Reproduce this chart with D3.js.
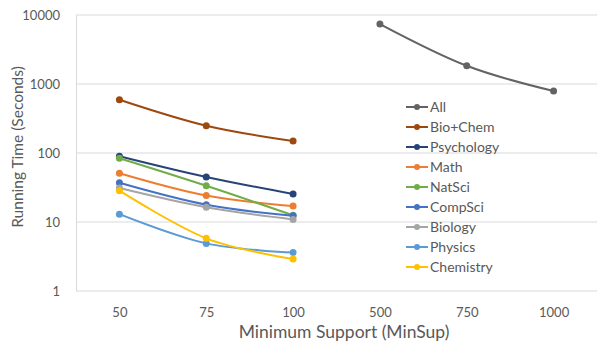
<!DOCTYPE html>
<html>
<head>
<meta charset="utf-8">
<script src="https://cdn.jsdelivr.net/npm/d3@7"></script>
<style>
  body { margin: 0; background: #fff; }
  svg text { font-family: Lato, "Open Sans", sans-serif; fill: #595959; }
</style>
</head>
<body>
<svg id="chart" width="597" height="344"></svg>
<script>
// x categories (minimum support) and series
const categories = ["50", "75", "100", "500", "750", "1000"];
const seriesNames = ["All", "Bio+Chem", "Psychology", "Math", "NatSci", "CompSci", "Biology", "Physics", "Chemistry"];
const seriesColors = ["#636363", "#9E480E", "#264478", "#ED7D31", "#70AD47", "#4472C4", "#A5A5A5", "#5B9BD5", "#FFC000"];
// running times in seconds; null = no value
const allTimes       = [null, null, null, 7400, 1840, 790];
const bioChemTimes   = [590, 248, 149, null, null, null];
const psychTimes     = [90, 45, 25.5, null, null, null];
const mathTimes      = [51, 24.2, 17, null, null, null];
const natSciTimes    = [84, 33.5, 12.5, null, null, null];
const compSciTimes   = [37, 17.8, 12.3, null, null, null];
const biologyTimes   = [31, 16.3, 10.9, null, null, null];
const physicsTimes   = [13, 4.9, 3.6, null, null, null];
const chemistryTimes = [28.4, 5.8, 2.9, null, null, null];
const yTicks = [1, 10, 100, 1000, 10000];

const seriesValues = [allTimes, bioChemTimes, psychTimes, mathTimes, natSciTimes,
                      compSciTimes, biologyTimes, physicsTimes, chemistryTimes];

const svg = d3.select("#chart");
const m = { left: 76, right: 0, top: 15, bottom: 53 };
const W = 597, H = 344;

const x = d3.scalePoint().domain(categories).range([m.left, W - m.right]).padding(0.5);
const y = d3.scaleLog().domain([1, 10000]).range([H - m.bottom, m.top]);

// gridlines
svg.append("g").selectAll("line")
  .data(yTicks.slice(1)).join("line")
  .attr("x1", m.left).attr("x2", W - m.right)
  .attr("y1", d => y(d)).attr("y2", d => y(d))
  .attr("stroke", "#d9d9d9").attr("stroke-width", 1);

// axes lines
svg.append("line").attr("x1", m.left + 0.5).attr("x2", m.left + 0.5)
  .attr("y1", y(10000)).attr("y2", y(1)).attr("stroke", "#d9d9d9");
svg.append("line").attr("x1", m.left).attr("x2", W - m.right)
  .attr("y1", y(1)).attr("y2", y(1)).attr("stroke", "#d9d9d9");

// y tick labels
const yAxis = svg.append("g").attr("transform", `translate(${m.left - 13},0)`)
  .call(d3.axisLeft(y).tickValues(yTicks).tickFormat(d3.format("d")).tickSize(0));
yAxis.select(".domain").remove();
yAxis.selectAll("text").attr("font-size", 13).attr("fill", "#595959")
  .style("font-family", "Lato, 'Open Sans', sans-serif");

// x tick labels
const xAxis = svg.append("g").attr("transform", `translate(0,${y(1) + 14})`)
  .call(d3.axisBottom(x).tickSize(0));
xAxis.select(".domain").remove();
xAxis.selectAll("text").attr("font-size", 13).attr("fill", "#595959")
  .style("font-family", "Lato, 'Open Sans', sans-serif");

// axis titles
svg.append("text").attr("x", 344).attr("y", 338).attr("text-anchor", "middle")
  .attr("font-size", 17.5).text("Minimum Support (MinSup)");
svg.append("text").attr("transform", "translate(23,147) rotate(-90)")
  .attr("text-anchor", "middle").attr("font-size", 15.5).text("Running Time (Seconds)");

// series lines + markers
const line = d3.line()
  .defined(d => d.v != null)
  .x(d => x(d.c)).y(d => y(d.v))
  .curve(d3.curveCatmullRom.alpha(0));

const plot = svg.append("g");
seriesNames.forEach((name, i) => {
  const pts = categories.map((c, j) => ({ c, v: seriesValues[i][j] }));
  plot.append("path").datum(pts)
    .attr("d", line).attr("fill", "none")
    .attr("stroke", seriesColors[i]).attr("stroke-width", 2);
  plot.append("g").selectAll("circle")
    .data(pts.filter(d => d.v != null)).join("circle")
    .attr("cx", d => x(d.c)).attr("cy", d => y(d.v)).attr("r", 3.5)
    .attr("fill", seriesColors[i]);
});

// legend
const legend = svg.append("g").attr("transform", "translate(406,107)");
const rows = legend.selectAll("g").data(seriesNames).join("g")
  .attr("transform", (d, i) => `translate(0,${i * 20})`);
rows.append("line").attr("x1", 0).attr("x2", 22)
  .attr("stroke", (d, i) => seriesColors[i]).attr("stroke-width", 2);
rows.append("circle").attr("cx", 11).attr("r", 3)
  .attr("fill", (d, i) => seriesColors[i]);
rows.append("text").attr("x", 24).attr("dy", "0.35em")
  .attr("font-size", 14).text(d => d);
</script>
</body>
</html>
